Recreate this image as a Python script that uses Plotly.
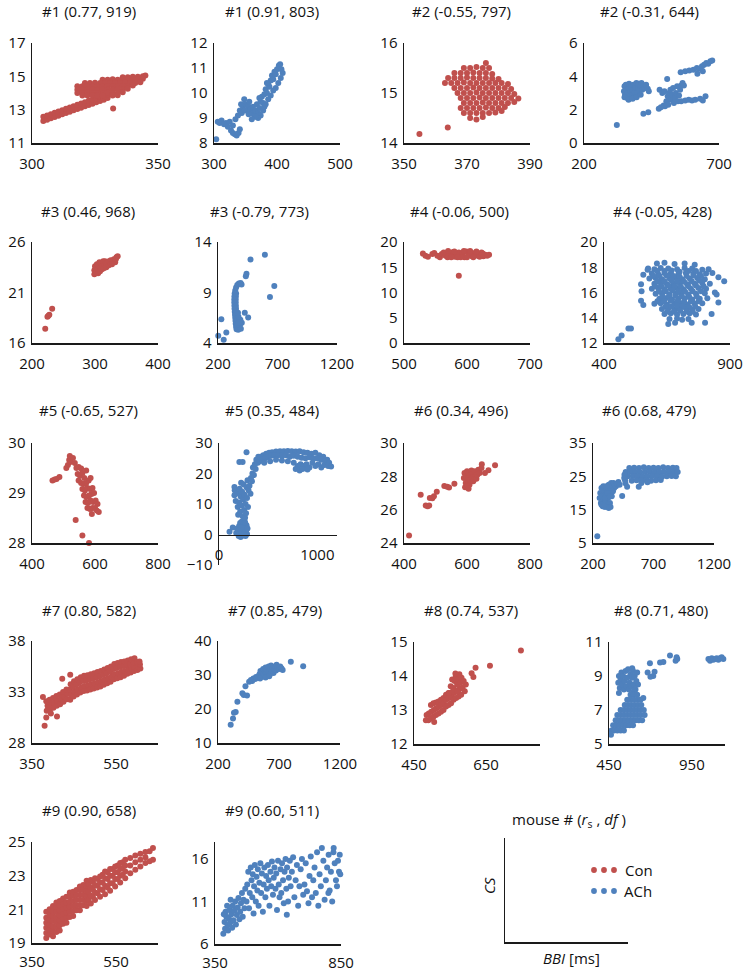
import plotly.graph_objects as go

W, H = 744, 972
RED = "#C0504D"
BLUE = "#4F81BD"
AX = "#1a1a1a"
FONT = "Open Sans, Noto Sans, DejaVu Sans, sans-serif"

# ---------------- data (BBI [ms], CS) ----------------
m1_con = [(304.5,12.32),(304.5,12.57),(306,12.40),(306,12.65),(307.5,12.48),(307.5,12.73),(309,12.56),(309,12.81),
          (310.5,12.64),(310.5,12.89),(312,12.72),(312,12.97),(313.5,12.80),(313.5,13.05),(315,12.88),(315,13.13),
          (316.5,12.96),(316.5,13.21),(318,13.04),(318,13.29),(319.5,13.12),(319.5,13.37),(321,13.20),(321,13.45),
          (322.5,13.28),(322.5,13.53),(324,13.36),(324,13.61),(325.5,13.44),(325.5,13.69),(327,13.52),(327,13.77),
          (328.5,13.6),(328.5,13.85),(330,13.7),(330,13.92),
          (336,14.95),(338,14.95),(340,14.97),(342,14.98),(344,15.0),(345,15.05),
          (328,14.8),(330,14.8),(332,14.82),(334,14.8),(336,14.8),(338,14.8),(340,14.8),(342,14.82),(344,14.85),
          (321,14.6),(323,14.6),(325,14.62),(327,14.6),(329,14.6),(331,14.6),(333,14.6),(335,14.6),(337,14.62),
          (339,14.6),(341,14.6),(343,14.65),
          (318,14.4),(320,14.4),(322,14.42),(324,14.4),(326,14.4),(328,14.4),(330,14.4),(332,14.42),(334,14.4),
          (336,14.4),(338,14.4),(340,14.45),
          (318,14.2),(320,14.2),(322,14.2),(324,14.22),(326,14.2),(328,14.2),(330,14.2),(332,14.2),(334,14.22),
          (336,14.2),(338,14.25),
          (318,14.0),(320,14.0),(322,14.02),(324,14.0),(326,14.0),(328,14.0),(330,14.02),(332,14.0),(334,14.0),(336,14.05),
          (320,13.85),(322,13.85),(324,13.87),(326,13.85),(328,13.85),(332,13.85),(334,13.87),
          (332.2,13.07)]

m1_ach = [(303.5,8.15),(306,8.85),(309,8.8),(312,8.9),(316,8.75),(319,8.8),(322,8.65),(325,8.85),(327,8.5),(330,8.4),
          (333,8.35),(336,8.3),(339,8.4),(341,8.55),(330,8.7),(334,8.95),(338,9.1),(341,9.3),(344,9.2),(346,9.45),
          (348,9.75),(350,9.55),(352,9.3),(354,9.5),(356,9.65),(358,9.35),(360,9.2),(362,9.45),(364,9.1),(366,9.3),
          (368,9.55),(370,9.2),(372,9.4),(374,9.65),(376,9.85),(378,9.6),(380,9.95),(382,10.15),(384,10.0),(386,10.35),
          (388,10.25),(390,10.5),(392,10.7),(394,10.55),(396,10.85),(398,10.75),(400,10.95),(403,11.1),(405,11.15),
          (407,10.95),(409,10.8),(406,10.6),(402,10.4),(398,10.2),(394,10.1),(390,9.9),(386,9.75),(382,9.55),(378,9.3),
          (374,9.1),(370,9.0),(366,9.05),(360,8.95),(343,9.55),(349,9.3),(355,9.15),(372,9.8),(384,10.4),(380,9.45)]

m2_con = [(376,15.6),
          (369,15.5),(371,15.5),(373,15.52),(375,15.5),(377,15.5),
          (366,15.4),(368,15.4),(370,15.4),(372,15.41),(374,15.4),(376,15.4),(378,15.38),
          (364,15.3),(366,15.3),(368,15.3),(370,15.31),(372,15.3),(374,15.3),(376,15.3),(378,15.29),(380,15.28),
          (363,15.2),(365,15.2),(367,15.2),(369,15.21),(371,15.2),(373,15.2),(375,15.2),(377,15.2),(379,15.2),(381,15.2),(383,15.18),
          (366,15.1),(368,15.1),(370,15.1),(372,15.11),(374,15.1),(376,15.1),(378,15.1),(380,15.1),(382,15.1),(384,15.08),
          (367,15.0),(369,15.0),(371,15.0),(373,15.01),(375,15.0),(377,15.0),(379,15.0),(381,15.0),(383,15.0),(385,14.98),
          (368,14.9),(370,14.9),(372,14.9),(374,14.91),(376,14.9),(378,14.9),(380,14.9),(382,14.9),(384,14.9),(386.3,14.89),
          (369,14.8),(371,14.8),(373,14.8),(375,14.81),(377,14.8),(379,14.8),(381,14.8),(383,14.8),(385,14.82),
          (368,14.7),(370,14.7),(372,14.7),(374,14.7),(376,14.71),(378,14.7),(380,14.7),(382,14.72),
          (369,14.6),(371,14.6),(373,14.6),(375,14.6),(377,14.6),(379,14.61),(381,14.64),
          (371,14.5),(373,14.47),(375,14.52),
          (354.9,14.18),(363.9,14.31)]

m2_ach = [(348,3.1),(350,3.4),(352,2.9),(355,3.5),(357,3.2),(360,2.7),(362,3.0),(365,3.3),(367,3.55),(370,2.8),
          (372,3.1),(375,3.4),(378,2.9),(380,3.2),(383,3.5),(386,2.75),(388,3.05),(391,3.35),(394,3.6),(397,3.0),
          (400,3.3),(403,3.55),(406,3.15),(410,3.4),(413,3.6),(416,3.2),(420,3.45),(425,3.3),(430,3.5),(436,3.25),
          (350,2.75),(365,2.6),(380,2.65),(395,2.75),(410,2.9),(440,3.1),
          (321.6,1.08),(508,3.84),(420,1.75),(438,1.85),(477,2.05),(495,2.25),
          (480,3.2),(490,3.0),(498,3.1),(505,2.5),(510,2.8),(515,3.0),(520,3.2),(522,2.6),(527,2.9),(530,3.3),
          (533,2.4),(537,2.7),(540,3.0),(545,3.4),(548,2.5),(552,2.85),(556,3.2),(560,3.45),(565,3.6),(570,3.45),
          (500,2.2),(512,2.3),(485,2.15),
          (558,4.25),(575,4.3),(590,4.35),(605,4.4),(618,4.5),(628,4.45),(637,4.6),(645,4.7),(653,4.8),(660,4.75),
          (668,4.9),(675,4.95),(620,4.15),(640,4.3),
          (560,2.5),(575,2.55),(588,2.6),(600,2.55),(612,2.6),(630,2.65),(640,2.55),(650,2.8)]

m3_con = [(299,22.8),(299,23.2),(300,23.6),(302,23.0),(302,23.4),(303,23.8),(305,22.9),(305,23.3),(306,23.7),(307,24.0),
          (308,23.1),(309,23.5),(310,23.9),(311,23.3),(312,23.7),(313,24.1),(314,23.4),(315,23.8),(316,24.1),(318,23.5),
          (318,23.9),(320,24.0),(322,23.7),(322,24.1),(325,23.9),(325,24.2),(328,24.1),(330,24.3),(332,24.0),(334,24.5),
          (336,24.6),(333,24.3),(327,23.8),
          (221,17.4),(224.5,18.6),(227.5,18.8),(232,19.4),(226,18.7)]

m3_ach = [(345,9.2),(352,9.5),(362,9.75),(375,9.9),(390,9.95),(398,9.8),(340,8.9),(338,8.6),(337,8.3),(337,8.0),
          (338,7.7),(339,7.4),(341,7.1),(343,6.8),(345,6.5),(347,6.2),(349,5.9),(352,5.6),(356,5.35),(352,8.9),
          (350,8.6),(349,8.3),(349,8.0),(350,7.7),(351,7.4),(353,7.1),(355,6.8),(357,6.5),(359,6.2),(362,5.9),
          (366,5.6),(370,5.3),(378,5.45),(385,5.8),(392,5.4),(400,6.0),(388,6.3),(375,6.0),(372,6.6),(368,7.0),
          (202,4.72),(248,4.33),(270,5.05),(228,6.36),(425,7.0),(453.5,6.52),(433.8,10.62),(439.4,10.85),
          (473,12.26),(594,12.75),(673,9.64),(636.6,8.56)]

m4_con = [(530,17.7),(534,17.3),(538,17.1),(545,17.6),(548,17.8),(553,17.3),(557,17.0),(560,17.6),(563,17.9),(566,17.3),
          (569,17.0),(572,17.8),(575,17.4),(578,18.0),(581,17.1),(584,17.6),(587,17.9),(590,17.3),(593,17.8),(596,17.0),
          (599,18.1),(602,17.5),(605,17.9),(608,17.2),(611,17.7),(614,17.9),(617,17.3),(620,17.6),(623,17.9),(626,17.2),
          (629,17.5),(632,17.3),(635,17.5),(590,17.0),(600,17.0),(610,17.0),(620,17.1),(580,18.1),(570,18.2),(575,17.0),
          (585,17.0),(595,18.2),(605,18.2),(615,18.1),(625,17.7),(587,13.3)]

m4_ach = [(610,18.3),(640,18.35),(680,18.25),(720,18.3),(760,18.2),
          (575,17.9),(600,17.85),(625,17.95),(655,17.9),(690,17.85),(720,17.95),(750,17.9),(790,17.8),(815,17.85),
          (590,17.5),(615,17.45),(640,17.55),(665,17.5),(695,17.45),(725,17.55),(755,17.5),(780,17.45),(805,17.5),(830,17.55),
          (580,17.1),(605,17.15),(630,17.05),(660,17.1),(685,17.15),(710,17.05),(740,17.1),(770,17.15),(800,17.05),
          (600,16.7),(625,16.75),(650,16.65),(675,16.7),(700,16.75),(730,16.65),(760,16.7),(790,16.75),(820,16.7),
          (590,16.3),(615,16.35),(640,16.25),(665,16.3),(690,16.35),(715,16.25),(745,16.3),(775,16.35),(805,16.3),
          (605,15.9),(630,15.95),(660,15.85),(685,15.9),(705,15.95),(735,15.85),(765,15.9),(800,15.95),
          (620,15.5),(645,15.55),(670,15.45),(695,15.5),(720,15.55),(750,15.45),(780,15.5),(810,15.55),
          (600,15.1),(625,15.15),(650,15.05),(680,15.1),(705,15.15),(730,15.05),(760,15.1),(790,15.15),
          (630,14.7),(655,14.75),(680,14.65),(700,14.7),(725,14.75),(750,14.65),(775,14.7),
          (640,14.3),(665,14.35),(690,14.25),(715,14.3),(740,14.35),(765,14.25),
          (660,13.9),(690,13.95),(710,13.85),(735,13.9),
          (612,17.7),(640,17.7),(668,17.75),(700,17.65),(735,17.7),(765,17.7),
          (595,17.3),(620,17.3),(648,17.35),(675,17.3),(700,17.25),(728,17.3),(755,17.35),(785,17.3),
          (612,16.9),(640,16.9),(668,16.95),(690,16.9),(718,16.85),(748,16.9),(778,16.95),
          (603,16.5),(628,16.5),(655,16.55),(680,16.5),(705,16.45),(735,16.5),(765,16.55),(795,16.5),
          (618,16.1),(645,16.1),(672,16.15),(695,16.1),(722,16.05),(752,16.1),(785,16.1),
          (632,15.7),(658,15.7),(683,15.75),(708,15.7),(738,15.65),(768,15.7),
          (612,15.3),(638,15.3),(665,15.35),(692,15.3),(718,15.25),(745,15.3),(775,15.3),
          (645,14.9),(668,14.9),(690,14.95),(712,14.9),(738,14.85),(762,14.9),
          (652,14.5),(678,14.5),(702,14.55),(728,14.5),(752,14.5),
          (457,12.3),(470,12.6),(497,13.15),(507,13.15),(547,16.65),(549,16.1),(547,15.35),(556,15.0),(556,17.4),
          (573,17.8),(877,16.9),(854,17.2),(840,16.0),(847,15.85),(854,15.2),(827,14.3),(801,13.6),(655,13.5),
          (682,13.6),(748,13.6)]

m5_con = [(465,29.25),(472,29.27),(478,29.28),(487,29.32),(509,29.5),(514,29.56),(518,29.66),(520,29.74),(522,29.62),
          (530,29.7),(536,29.6),(541,29.5),(548,29.52),(556,29.49),(545,29.38),(552,29.35),(560,29.4),(566,29.3),
          (572,29.45),(548,29.25),(556,29.2),(564,29.18),(572,29.2),(580,29.25),(586,29.3),(560,29.08),(568,29.05),
          (576,29.1),(584,29.08),(592,29.1),(565,28.95),(573,28.92),(581,28.95),(589,28.98),(597,29.0),(570,28.82),
          (578,28.8),(586,28.85),(594,28.82),(602,28.85),(608,28.78),(576,28.7),(584,28.68),(592,28.7),(600,28.7),
          (606,28.65),(612,28.62),(590,28.58),(538.6,28.46),(560,28.15),(581,28.0)]

m5_ach = [(107,0.9),(140,2.3),(175,0.5),(185,2.0),(195,1.0),(200,-0.5),(205,2.8),(210,0.3),(215,3.8),(220,-0.8),
          (225,1.5),(230,4.2),(235,0.5),(240,2.8),(245,-0.3),(250,1.8),(255,3.5),(260,0.8),(265,2.2),(270,-0.5),
          (275,1.2),(280,3.0),(285,0.2),(215,1.8),(230,2.3),(250,0.0),(265,4.0),(290,2.0),
          (157,15.6),(160,14.5),(157,12.9),(170,11.0),(185,13.5),(190,9.0),(195,6.5),(205,10.5),(210,15.0),(207,23.8),
          (215,7.5),(220,12.5),(225,17.0),(230,9.5),(235,14.0),(240,23.8),(240,6.0),(245,11.5),(250,16.5),(255,8.0),
          (260,13.0),(265,5.5),(270,10.0),(275,7.0),(280,27.0),(280,15.5),(285,12.0),(290,17.8),(295,9.0),(300,14.5),
          (310,16.0),(320,13.4),(325,18.5),(335,17.5),(340,20.0),(345,22.0),(355,19.5),(365,23.0),(373,21.5),(380,24.5),
          (395,23.5),(400,25.5),(415,24.0),
          (420,25.5),(450,26.0),(480,26.5),(510,26.8),(540,27.0),(580,27.2),(620,27.3),(660,27.3),(700,27.4),(740,27.3),
          (780,27.2),(820,27.3),(860,27.0),(900,26.8),(940,26.5),(980,26.8),(1020,26.0),(1060,25.5),(1100,24.5),
          (440,24.5),(470,25.0),(500,25.5),(530,25.8),(560,26.0),(600,26.0),(640,25.8),(680,26.0),(720,25.5),(760,25.8),
          (800,25.5),(840,25.2),(880,25.0),(920,25.3),(960,24.8),(1000,25.0),(1040,24.5),(1080,24.0),(1120,23.5),
          (460,23.5),(520,24.0),(580,24.5),(640,24.3),(700,24.0),(760,23.5),(800,22.5),(830,23.0),(860,22.5),(890,23.0),
          (920,22.0),(950,23.5),(980,22.5),(1010,23.0),(1040,22.0),(1070,22.8),(1110,22.5),(1140,22.3),(780,21.5),
          (820,21.0),(850,21.5),(900,21.3)]

m6_con = [(416,24.45),(453,26.9),(469,26.25),(475,26.2),(480,26.25),(482,26.7),(490,26.68),(495,26.8),(504,27.08),
          (528,27.42),(537,27.38),(543,27.33),(560,27.55),(590,27.9),(592,28.2),(594,27.35),(596,27.6),(598,28.0),
          (600,28.3),(602,27.7),(604,27.95),(606,28.2),(608,27.5),(610,27.8),(612,28.1),(614,28.35),(616,27.9),
          (618,28.2),(620,27.7),(622,28.0),(625,28.3),(628,28.05),(630,27.85),(633,28.1),(636,28.4),(640,28.2),
          (646,28.5),(647,28.73),(657,28.2),(668,28.37),(689,28.67),(600,27.4),(605,27.25)]

m6_ach = [(255,18.5),(260,20.0),(265,17.0),(270,21.5),(275,19.0),(280,16.0),(285,22.0),(290,18.0),(295,20.5),(300,15.8),
          (305,17.5),(310,19.5),(315,21.0),(320,16.5),(325,18.5),(330,22.5),(335,20.0),(340,17.0),(345,21.5),(350,23.0),
          (355,19.0),(360,22.0),(365,20.5),(370,23.0),(375,21.5),(380,22.5),(390,22.0),(400,22.8),(410,23.3),(420,22.5),
          (300,18.5),(320,20.0),(345,15.8),(330,15.5),(270,16.5),(290,16.0),(310,22.0),(340,19.0),
          (441,19.1),(235.6,7.0),
          (500,27.5),(540,27.6),(580,27.5),(620,27.7),(660,27.5),(700,27.6),(740,27.5),(780,27.7),(820,27.5),(860,27.6),(890,27.5),
          (470,26.3),(510,26.4),(550,26.3),(590,26.2),(630,26.3),(670,26.4),(710,26.3),(750,26.2),(790,26.3),(830,26.4),(870,26.3),(900,26.3),
          (490,25.0),(530,25.1),(570,25.0),(610,24.9),(650,25.0),(690,25.1),(730,25.0),(770,24.9),(810,25.0),(850,25.1),(885,25.0),
          (465,23.8),(520,23.7),(560,23.8),(600,23.9),(640,23.8),(680,23.7),(720,23.8),(760,23.9),
          (468,22.9),(482,21.9),(578,21.9),(460,25.5),(458,24.5),(600,23.0),(650,23.2)]

m7_con = [(385,31.15),(387,31.65),(384,32.1),(393,31.3),(395,31.8),(392,32.25),(401,31.45),(403,31.95),(400,32.4),
          (409,31.65),(411,32.15),(408,32.6),(417,31.8),(419,32.3),(416,32.75),(425,32.05),(427,32.55),(424,33.0),
          (433,32.3),(435,32.8),(432,33.25),
          (441,32.25),(443,32.75),(440,33.25),(442,33.75),(449,32.55),(451,33.05),(448,33.55),(450,34.05),
          (457,32.75),(459,33.25),(456,33.75),(458,34.25),(465,32.95),(467,33.45),(464,33.95),(466,34.45),
          (473,33.1),(475,33.6),(472,34.1),(474,34.6),(481,33.15),(483,33.65),(480,34.15),(482,34.65),
          (489,33.25),(491,33.75),(488,34.25),(490,34.75),(497,33.35),(499,33.85),(496,34.35),(498,34.85),
          (505,33.45),(507,33.95),(504,34.45),(506,34.95),(513,33.55),(515,34.05),(512,34.55),(514,35.05),
          (521,33.7),(523,34.2),(520,34.7),(522,35.2),(529,33.85),(531,34.35),(528,34.85),(530,35.35),
          (537,34.0),(539,34.5),(536,35.0),(538,35.5),(545,34.25),(547,34.75),(544,35.25),(546,35.75),
          (553,34.35),(555,34.85),(552,35.35),(554,35.85),(561,34.45),(563,34.95),(560,35.45),(562,35.95),
          (569,34.6),(571,35.05),(568,35.55),(570,36.0),(577,34.8),(579,35.2),(576,35.65),(578,36.1),
          (585,34.9),(587,35.3),(584,35.75),(586,36.2),(593,35.05),(595,35.4),(592,35.85),(594,36.3),
          (601,35.15),(603,35.5),(600,35.95),(608,35.3),(607,35.7),(606,36.0),
          (376,32.5),(380,29.7),(384,30.5),(409.5,30.6),(422,34.3),(441,34.7),(395,30.9),(390,31.5)]

m7_ach = [(304,15.4),(323,17.2),(331,18.9),(345,19.1),(359,22.1),(400,24.6),(411,24.1),(425,26.7),(438,24.0),(455,28.0),
          (470,28.5),(480,28.2),(490,29.0),(505,28.8),(512,29.4),(520,29.2),(530,29.6),(540,30.2),(548,31.2),(555,30.0),
          (560,29.5),(565,30.8),(570,31.8),(575,30.3),(580,29.7),(585,31.0),(590,32.2),(595,30.5),(600,31.5),(605,29.9),
          (610,30.8),(615,32.5),(620,31.2),(625,30.2),(630,31.8),(635,32.8),(640,31.0),(648,32.0),(655,30.6),(660,31.6),
          (668,32.5),(675,31.3),(680,33.0),(690,32.2),(700,31.8),(710,32.5),(720,32.0),(730,31.5),(797,33.9),(898,32.6),
          (545,29.0),(590,29.3),(620,29.6)]

m8_con = [(483,12.7),(485,12.85),(490,12.7),(491,12.9),(497,12.75),(498,12.95),(497,13.15),(504,12.8),(505,13.0),(504,13.2),
          (511,12.85),(512,13.05),(511,13.22),(518,12.9),(519,13.1),(518,13.25),(525,12.95),(526,13.15),(525,13.3),
          (532,13.0),(533,13.2),(532,13.35),(539,13.1),(540,13.3),(539,13.45),(546,13.15),(547,13.35),(546,13.5),
          (553,13.2),(554,13.4),(560,13.3),(561,13.5),(567,13.35),(568,13.55),(574,13.4),(575,13.6),(581,13.45),(582,13.65),
          (506,12.65),
          (548,13.5),(552,13.7),(556,13.9),(560,13.65),(563,13.85),(566,14.0),(570,13.75),(573,13.9),(576,14.05),
          (579,13.8),(582,13.95),(585,13.65),(588,13.85),(591,13.55),(594,13.75),(565,14.07),(558,13.55),(571,13.55),
          (610,14.08),(615,13.97),(621,14.24),(661,14.3),(747,14.75)]

m8_ach = [(506,8.6),(510,9.0),(515,8.3),(520,8.8),(525,9.2),(530,8.5),(535,9.0),(540,8.2),(545,8.7),(550,9.3),
          (555,8.4),(560,8.9),(565,9.4),(570,8.2),(575,8.6),(580,9.1),(585,8.4),(590,8.9),(595,9.3),(600,8.5),
          (605,9.0),(610,8.2),(615,8.7),(620,9.2),(625,8.5),(510,8.0),(600,8.1),(590,9.45),
          (580,7.9),(600,7.9),(620,7.9),
          (560,7.6),(580,7.6),(600,7.6),(620,7.6),(640,7.6),
          (545,7.3),(565,7.3),(585,7.3),(605,7.3),(625,7.3),(645,7.3),
          (520,7.0),(540,7.0),(560,7.0),(580,7.0),(600,7.0),(620,7.0),(640,7.0),(660,7.0),
          (500,6.7),(520,6.7),(540,6.7),(560,6.7),(580,6.7),(600,6.7),(620,6.7),(640,6.7),(665,6.7),
          (490,6.4),(510,6.4),(530,6.4),(550,6.4),(570,6.4),(590,6.4),(610,6.4),(630,6.4),(650,6.4),
          (475,6.1),(495,6.1),(515,6.1),(535,6.1),(555,6.1),(575,6.1),(595,6.1),
          (465,5.8),(480,5.8),(500,5.8),(520,5.8),(540,5.8),(462,5.55),
          (657,7.7),(683,9.2),(697,9.75),(717,9.0),(700,8.95),(725,9.25),(758,9.8),(778,9.82),(818,10.2),(852,9.9),
          (858,10.1),(862,10.0),
          (1050,10.0),(1060,9.9),(1070,10.05),(1080,9.95),(1090,10.0),(1100,10.05),(1110,9.95),(1120,10.05),
          (1130,10.1),(1140,10.0)]

m9_con = [(384,19.3),(384,19.6),(384,19.9),(384,20.2),(384,20.5),(384,20.85),
          (392,19.5),(392,19.8),(392,20.1),(392,20.4),(392,20.7),(392,21.0),
          (400,19.4),(400,19.7),(400,20.0),(400,20.3),(400,20.6),(400,20.9),(400,21.2),
          (408,19.65),(408,19.95),(408,20.25),(408,20.55),(408,20.85),(408,21.15),(408,21.4),
          (416,19.75),(416,20.05),(416,20.35),(416,20.65),(416,20.95),(416,21.25),(416,21.5),
          (424,20.15),(424,20.45),(424,20.75),(424,21.05),(424,21.35),(424,21.65),
          (432,20.2),(432,20.5),(432,20.8),(432,21.1),(432,21.4),(432,21.75),
          (440,20.55),(440,20.85),(440,21.15),(440,21.45),(440,21.75),(440,22.0),
          (448,20.6),(448,20.9),(448,21.2),(448,21.5),(448,21.8),(448,22.05),
          (456,20.95),(456,21.25),(456,21.55),(456,21.85),(456,22.15),
          (464,20.95),(464,21.25),(464,21.55),(464,21.85),(464,22.15),(464,22.35),
          (472,21.25),(472,21.55),(472,21.85),(472,22.15),(472,22.45),
          (480,21.2),(480,21.5),(480,21.8),(480,22.1),(480,22.4),(480,22.7),
          (485,21.55),(485,22.05),(485,22.5),
          (490,21.35),(490,21.8),(490,22.3),(490,22.75),(495,21.75),(495,22.2),(495,22.65),
          (500,21.55),(500,22.0),(500,22.45),(500,22.85),(506,21.95),(506,22.4),(506,22.8),
          (512,21.75),(512,22.2),(512,22.6),(512,22.95),(518,22.15),(518,22.6),(518,23.05),
          (524,21.9),(524,22.4),(524,22.85),(524,23.25),(530,22.3),(530,22.8),(530,23.2),
          (536,22.1),(536,22.55),(536,23.0),(536,23.4),(542,22.55),(542,23.0),(542,23.4),
          (548,22.35),(548,22.8),(548,23.2),(548,23.55),(554,22.8),(554,23.2),(554,23.6),
          (560,22.6),(560,23.0),(560,23.4),(560,23.75),(566,23.05),(566,23.45),(566,23.8),
          (572,22.85),(572,23.25),(572,23.6),(572,23.95),
          (584,23.15),(584,23.6),(584,24.05),(596,23.35),(596,23.8),(596,24.2),(608,23.55),(608,23.95),(608,24.3),
          (620,23.75),(620,24.1),(620,24.4),(630,23.85),(630,24.45),(638,23.95),(638,24.65)]

m9_ach = [(383,7.2),(390,7.8),(388,8.6),(395,9.2),(392,9.8),(400,8.2),(402,7.6),(405,9.0),(408,10.0),(410,8.5),
          (415,9.5),(418,7.9),(420,10.5),(423,8.8),(427,9.9),(430,11.0),(433,8.3),(437,9.4),(440,10.3),(443,11.4),
          (447,8.9),(450,9.8),(453,10.8),(457,12.0),(460,9.2),(463,11.2),(467,10.2),(470,12.5),(385,9.5),(412,11.2),(398,10.5),
          (475,11.0),(478,13.0),(482,14.5),(485,10.2),(488,12.0),(492,15.0),(495,13.5),(498,11.5),(500,14.2),(503,9.6),
          (505,12.8),(508,15.3),(512,11.0),(515,13.9),(518,12.3),(520,14.8),(523,10.5),(526,13.2),(530,15.5),(533,12.0),
          (536,14.3),(540,9.8),(543,13.0),(546,15.0),(550,11.5),(553,14.0),(556,12.5),(560,15.3),(563,13.5),(566,10.5),
          (570,14.5),(573,12.8),(576,15.7),(580,11.8),(583,13.8),(586,15.0),(590,12.5),(593,14.3),(596,10.0),(600,15.8),
          (603,13.0),(606,11.5),(610,14.8),(613,12.0),(616,15.5),(620,13.5),(623,10.8),(626,14.5),(630,16.0),(633,12.5),
          (636,15.0),(640,11.0),(643,13.8),(647,15.8),(650,12.8),(635,9.45),
          (655,14.5),(660,16.2),(665,11.5),(670,13.5),(675,15.3),(680,10.5),(685,12.8),(690,14.8),(695,16.0),(700,11.8),
          (705,13.0),(710,15.5),(715,12.2),(721,10.8),(725,14.0),(730,16.3),(735,11.5),(740,13.5),(745,15.0),(750,12.0),
          (755,16.8),(760,10.5),(765,14.2),(770,12.8),(774,17.3),(780,15.8),(785,11.2),(790,13.5),(795,15.0),(801,16.5),
          (805,12.3),(810,14.5),(815,11.0),(821,17.3),(825,15.5),(830,13.5),(834,12.8),(838,15.8),(842,14.5),(847,14.2),
          (845,16.5),(820,16.8),(800,12.0)]

titles = ["#1 (0.77, 919)", "#1 (0.91, 803)", "#2 (-0.55, 797)", "#2 (-0.31, 644)",
          "#3 (0.46, 968)", "#3 (-0.79, 773)", "#4 (-0.06, 500)", "#4 (-0.05, 428)",
          "#5 (-0.65, 527)", "#5 (0.35, 484)", "#6 (0.34, 496)", "#6 (0.68, 479)",
          "#7 (0.80, 582)", "#7 (0.85, 479)", "#8 (0.74, 537)", "#8 (0.71, 480)",
          "#9 (0.90, 658)", "#9 (0.60, 511)"]
series = [m1_con, m1_ach, m2_con, m2_ach, m3_con, m3_ach, m4_con, m4_ach, m5_con, m5_ach,
          m6_con, m6_ach, m7_con, m7_ach, m8_con, m8_ach, m9_con, m9_ach]
x_ranges = [[300,350],[300,500],[350,390],[200,700],[200,400],[200,1200],[500,700],[400,900],[400,800],[0,1200],
            [400,800],[200,1200],[350,650],[200,1200],[450,800],[450,1150],[350,650],[350,850]]
x_ticks = [[300,350],[300,400,500],[350,370,390],[200,700],[200,300,400],[200,700,1200],[500,600,700],[400,900],
           [400,600,800],[0,1000],[400,600,800],[200,700,1200],[350,550],[200,700,1200],[450,650],[450,950],
           [350,550],[350,850]]
y_ranges = [[11,17],[8,12],[14,16],[0,6],[16,26],[4,14],[0,20],[12,20],[28,30],[-10,30],
            [24,30],[5,35],[28,38],[10,40],[12,15],[5,11],[19,25],[6,18]]
y_ticks = [[11,13,15,17],[8,9,10,11,12],[14,15,16],[0,2,4,6],[16,21,26],[4,9,14],[0,5,10,15,20],[12,14,16,18,20],
           [28,29,30],[-10,0,10,20,30],[24,26,28,30],[5,15,25,35],[28,33,38],[10,20,30,40],[12,13,14,15],
           [5,7,9,11],[19,21,23,25],[6,11,16]]

# ---------------- layout (pixel boxes: x0, x1, ytop, ybottom; title centre) ----------------
boxes = [(32,158,43,143),(214,340,43,143),(404,530,43,143),(584,719,43,143),
         (32,158,242,343),(218,337,242,343),(404,530,242,343),(604,730,242,343),
         (32,158,443,543),(219,337,443,565),(404,530,443,543),(593,714,443,543),
         (32,158,641,743),(218,340,641,743),(414,540,642,744),(609,725,642,744),
         (32,158,842,943),(215,341,842,944)]
title_pos = [(89,11),(272,11),(461,11),(649,11),
             (88,211),(259,211),(459,211),(662,211),
             (88,410),(272,410),(461,410),(649,410),
             (89,610),(275,610),(471,610),(661,610),
             (89,810),(272,810)]

def px(x):
    return x / W

def py(y):
    return 1 - y / H

fig = go.Figure()
lay = {}
annotations = []
tickfont = dict(family=FONT, size=15, color="#111")

def axis_common():
    return dict(showline=True, linecolor=AX, linewidth=1.5, ticks="", showgrid=False,
                zeroline=False, automargin=False, tickfont=tickfont, fixedrange=True)

for i in range(1, 20):
    xn = "x" if i == 1 else f"x{i}"
    yn = "y" if i == 1 else f"y{i}"
    xkey = "xaxis" if i == 1 else f"xaxis{i}"
    ykey = "yaxis" if i == 1 else f"yaxis{i}"
    if i <= 18:
        pts = series[i - 1]
        color = RED if i % 2 == 1 else BLUE
        fig.add_trace(go.Scatter(x=[p[0] for p in pts], y=[p[1] for p in pts], mode="markers",
                                 xaxis=xn, yaxis=yn, cliponaxis=False, hoverinfo="skip",
                                 marker=dict(color=color, size=6, line=dict(width=0))))
        x0, x1, ytp, ybt = boxes[i - 1]
        xa = axis_common()
        xa.update(domain=[px(x0), px(x1)], range=x_ranges[i - 1], tickvals=x_ticks[i - 1],
                  anchor=yn, ticklabelstandoff=(4 if i >= 17 else 6))
        ya = axis_common()
        ya.update(domain=[py(ybt), py(ytp)], range=y_ranges[i - 1], tickvals=y_ticks[i - 1], anchor=xn,
                  ticklabelstandoff=2)
        if i == 10:
            yr = y_ranges[9]
            frac = (0 - yr[0]) / (yr[1] - yr[0])
            xa["anchor"] = "free"
            xa["position"] = py(ybt) + frac * (py(ytp) - py(ybt))
        lay[xkey] = xa
        lay[ykey] = ya
        tx, ty = title_pos[i - 1]
        annotations.append(dict(text=titles[i - 1], x=px(tx), y=py(ty), xref="paper", yref="paper",
                                showarrow=False, xanchor="center", yanchor="middle",
                                font=dict(family=FONT, size=15, color="#111")))
    else:
        fig.add_trace(go.Scatter(x=[None], y=[None], mode="markers", xaxis=xn, yaxis=yn, hoverinfo="skip"))
        xa = axis_common()
        xa.update(domain=[px(505), px(628)], range=[0, 1], showticklabels=False, anchor=yn)
        ya = axis_common()
        ya.update(domain=[py(942), py(838)], range=[0, 1], showticklabels=False, anchor=xn)
        lay[xkey] = xa
        lay[ykey] = ya

key_font = dict(family=FONT, size=15, color="#111")
annotations += [
    dict(text="mouse # (<i>r</i><sub>s</sub> , <i>df</i> )", x=px(569), y=py(820), xref="paper", yref="paper",
         showarrow=False, xanchor="center", yanchor="middle", font=key_font),
    dict(text="<i>CS</i>", x=px(489), y=py(886), xref="paper", yref="paper", textangle=-90,
         showarrow=False, xanchor="center", yanchor="middle", font=key_font),
    dict(text="<i>BBI</i> [ms]", x=px(571), y=py(958), xref="paper", yref="paper",
         showarrow=False, xanchor="center", yanchor="middle", font=key_font),
    dict(text="Con", x=px(623), y=py(870), xref="paper", yref="paper",
         showarrow=False, xanchor="left", yanchor="middle", font=key_font),
    dict(text="ACh", x=px(622), y=py(891), xref="paper", yref="paper",
         showarrow=False, xanchor="left", yanchor="middle", font=key_font),
]

shapes = []
r = 2.9
for cx in (594, 604, 614):
    for cy, col in ((870, RED), (891, BLUE)):
        shapes.append(dict(type="circle", xref="paper", yref="paper",
                           x0=px(cx - r), x1=px(cx + r), y0=py(cy + r), y1=py(cy - r),
                           fillcolor=col, line=dict(width=0)))

fig.update_layout(width=W, height=H, margin=dict(l=0, r=0, t=0, b=0), showlegend=False,
                  paper_bgcolor="white", plot_bgcolor="white", annotations=annotations,
                  shapes=shapes, font=dict(family=FONT), **lay)

fig.write_html("out.html", config={"displayModeBar": False, "staticPlot": True},
               post_script="document.body.style.margin='0';document.body.style.overflow='hidden';")
